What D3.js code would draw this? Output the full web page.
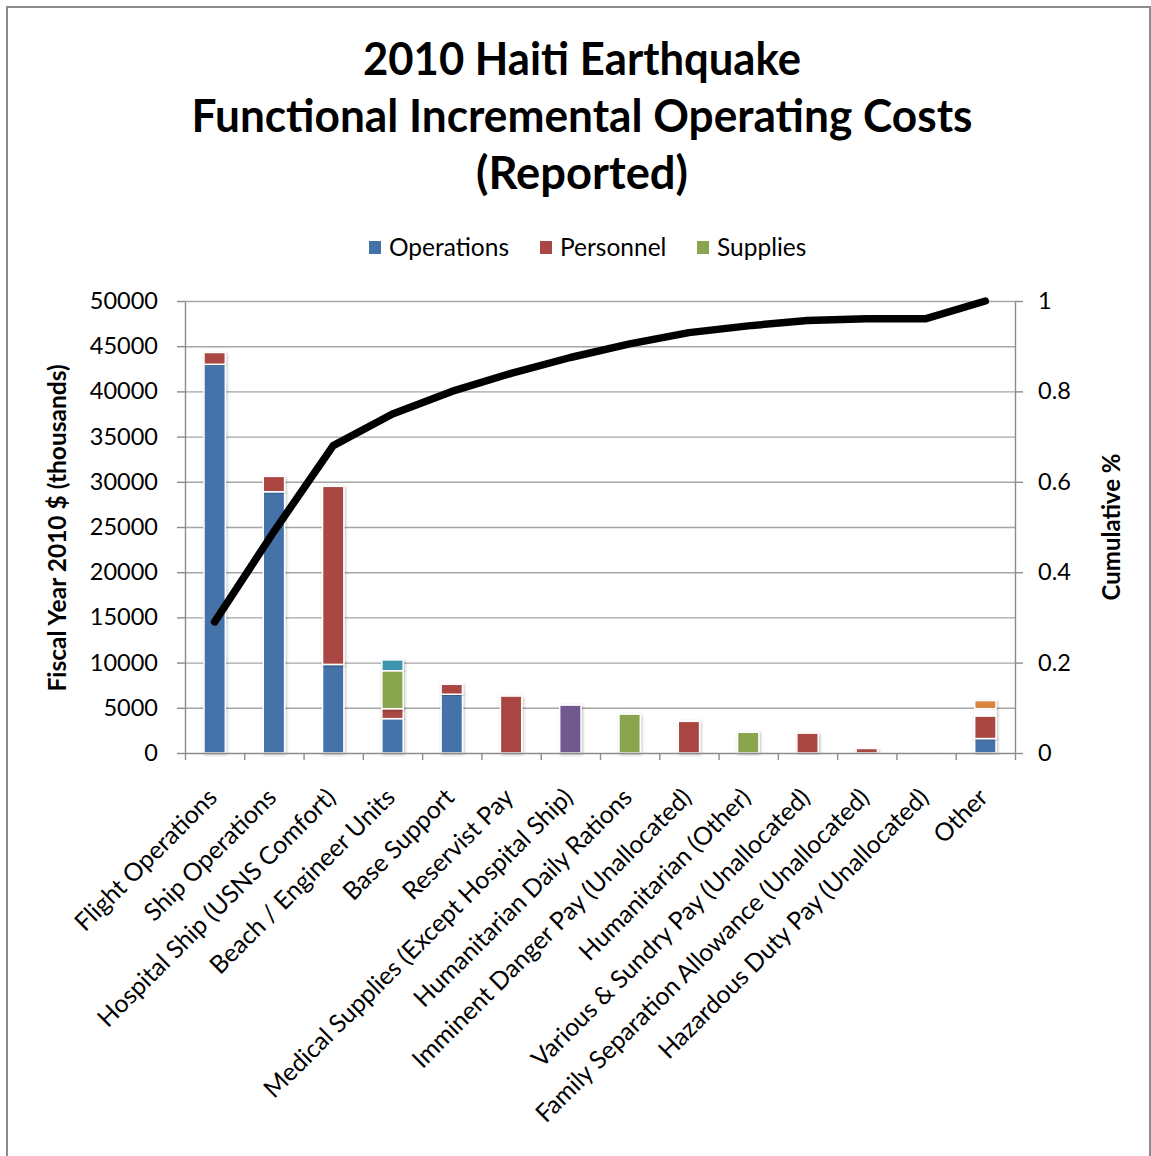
<!DOCTYPE html>
<html>
<head>
<meta charset="utf-8">
<script src="https://cdn.jsdelivr.net/npm/d3@7"></script>
<style>
  body { margin: 0; background: #fff; }
  text { font-family: Lato, "Open Sans", sans-serif; fill: #000; }
</style>
</head>
<body>
<svg id="chart" width="1151" height="1156"></svg>
<script>
"use strict";

// categories on the x axis
const categories = [
  "Flight Operations", "Ship Operations", "Hospital Ship (USNS Comfort)",
  "Beach / Engineer Units", "Base Support", "Reservist Pay",
  "Medical Supplies (Except Hospital Ship)", "Humanitarian Daily Rations",
  "Imminent Danger Pay (Unallocated)", "Humanitarian (Other)",
  "Various & Sundry Pay (Unallocated)", "Family Separation Allowance (Unallocated)",
  "Hazardous Duty Pay (Unallocated)", "Other"
];

// stacked series values, FY2010 $ thousands
const operations = [43000, 28900, 9800, 3800, 6500, 0, 0, 0, 0, 0, 0, 0, 0, 1600];
const personnel  = [1300, 1700, 19700, 1100, 1100, 6300, 0, 0, 3500, 0, 2200, 500, 40, 2500];
const supplies   = [0, 0, 0, 4200, 0, 0, 0, 4300, 0, 2300, 0, 0, 0, 0];
const series4    = [0, 0, 0, 1200, 0, 0, 0, 0, 0, 0, 0, 0, 0, 0];
const series5    = [0, 0, 0, 0, 0, 0, 5300, 0, 0, 0, 0, 0, 0, 0];
const series6    = [0, 0, 0, 0, 0, 0, 0, 0, 0, 0, 0, 0, 0, 800];
const series7    = [0, 0, 0, 0, 0, 0, 0, 0, 0, 0, 0, 0, 0, 900];

// cumulative share line (right axis)
const cumulative = [0.29, 0.49, 0.68, 0.75, 0.80, 0.84, 0.875, 0.905, 0.93, 0.945, 0.957, 0.961, 0.961, 1.0];

// tick labels
const leftTicks = [0, 5000, 10000, 15000, 20000, 25000, 30000, 35000, 40000, 45000, 50000];
const rightTicks = [0, 0.2, 0.4, 0.6, 0.8, 1];
const gridTicks = [5000, 10000, 15000, 20000, 25000, 30000, 35000, 40000, 45000, 50000];

const seriesNames = ["Operations", "Personnel", "Supplies", "Series4", "Series5", "Series6", "Series7"];
const seriesValues = [operations, personnel, supplies, series4, series5, series6, series7];
const seriesColors = ["#4472a8", "#aa4643", "#89a54e", "#3d96ae", "#71588f", "#ffffff", "#db843d"];
const legendNames = ["Operations", "Personnel", "Supplies"];

const svg = d3.select("#chart");

// frame
svg.append("rect")
   .attr("x", 7).attr("y", 7)
   .attr("width", 1143).attr("height", 1170)
   .attr("fill", "#fff")
   .attr("stroke", "#8c8c8c")
   .attr("stroke-width", 2);

const defs = svg.append("defs");
const shadow = defs.append("filter").attr("id", "shadow")
   .attr("x", "-30%").attr("y", "-10%").attr("width", "160%").attr("height", "120%");
shadow.append("feDropShadow")
   .attr("dx", 1).attr("dy", 1).attr("stdDeviation", 1.6)
   .attr("flood-color", "#000").attr("flood-opacity", 0.28);

const plotLeft = 185, plotRight = 1015, plotTop = 301, plotBottom = 753;

// title
const titleLines = [
  {t: "2010 Haiti Earthquake", y: 75, w: 438},
  {t: "Functional Incremental Operating Costs", y: 132, w: 781},
  {t: "(Reported)", y: 189, w: 212}
];
svg.selectAll("text.title")
   .data(titleLines)
   .join("text")
   .attr("class", "title")
   .attr("x", 582)
   .attr("y", d => d.y)
   .attr("text-anchor", "middle")
   .attr("font-size", 46)
   .attr("font-weight", "bold")
   .attr("textLength", d => d.w)
   .attr("lengthAdjust", "spacingAndGlyphs")
   .text(d => d.t);

// scales
const x = d3.scaleBand()
            .domain(categories)
            .range([plotLeft, plotRight])
            .paddingInner(0.64)
            .paddingOuter(0.32);
const xEdge = d3.scaleLinear().domain([0, categories.length]).range([plotLeft, plotRight]);
const y = d3.scaleLinear().domain([0, 50000]).range([plotBottom, plotTop]);
const y2 = d3.scaleLinear().domain([0, 1]).range([plotBottom, plotTop]);

// gridlines
svg.append("g")
   .attr("class", "grid")
   .attr("transform", "translate(" + plotLeft + ",0)")
   .call(d3.axisLeft(y).tickValues(gridTicks).tickSize(-(plotRight - plotLeft)).tickFormat(""))
   .call(g => g.select(".domain").remove())
   .call(g => g.selectAll("line").attr("stroke", "#a6a6a6").attr("stroke-width", 1.4));

// stacked bars
const rows = categories.map((c, i) => {
    let row = {cat: c};
    seriesNames.forEach((s, k) => { row[s] = seriesValues[k][i]; });
    return row;
});
const stacked = d3.stack().keys(seriesNames)(rows);

svg.append("g")
   .selectAll("g")
   .data(stacked)
   .join("g")
   .attr("fill", (d, k) => seriesColors[k])
   .selectAll("rect")
   .data(d => d.filter(p => p[1] - p[0] > 0))
   .join("rect")
   .attr("x", d => x(d.data.cat))
   .attr("y", d => y(d[1]))
   .attr("width", x.bandwidth())
   .attr("height", d => Math.max(1, y(d[0]) - y(d[1])))
   .attr("stroke", "#fff")
   .attr("stroke-width", 1.5)
   .attr("filter", "url(#shadow)");

// left axis
const axisColor = "#8c8c8c";
svg.append("g")
   .attr("transform", "translate(" + plotLeft + ",0)")
   .call(d3.axisLeft(y).tickValues(leftTicks).tickSize(8).tickPadding(19).tickSizeOuter(0).tickFormat(d3.format("d")))
   .call(g => g.select(".domain").attr("stroke", axisColor).attr("stroke-width", 1.4))
   .call(g => g.selectAll("line").attr("stroke", axisColor).attr("stroke-width", 1.4))
   .call(g => g.selectAll("text").attr("font-size", 23.5).attr("font-family", "Lato, sans-serif").attr("fill", "#111"));

// right axis
svg.append("g")
   .attr("transform", "translate(" + plotRight + ",0)")
   .call(d3.axisRight(y2).tickValues(rightTicks).tickSize(8).tickPadding(15).tickSizeOuter(0).tickFormat(d => String(d)))
   .call(g => g.select(".domain").attr("stroke", axisColor).attr("stroke-width", 1.4))
   .call(g => g.selectAll("line").attr("stroke", axisColor).attr("stroke-width", 1.4))
   .call(g => g.selectAll("text").attr("font-size", 23.5).attr("font-family", "Lato, sans-serif").attr("fill", "#111"));

// bottom axis with ticks between categories
svg.append("g")
   .attr("transform", "translate(0," + plotBottom + ")")
   .call(d3.axisBottom(xEdge).tickValues(d3.range(categories.length + 1)).tickSize(7).tickSizeOuter(0).tickFormat(""))
   .call(g => g.select(".domain").attr("stroke", axisColor).attr("stroke-width", 1.4))
   .call(g => g.selectAll("line").attr("stroke", axisColor).attr("stroke-width", 1.4));

// rotated category labels
svg.append("g")
   .selectAll("text")
   .data(categories)
   .join("text")
   .attr("transform", d => "translate(" + (x(d) + x.bandwidth() / 2 + 4) + ",799) rotate(-45)")
   .attr("text-anchor", "end")
   .attr("font-size", 24.8)
   .attr("fill", "#111")
   .text(d => d);

// cumulative line
const line = d3.line()
               .x((d, i) => x(categories[i]) + x.bandwidth() / 2)
               .y(d => y2(d));
svg.append("path")
   .datum(cumulative)
   .attr("d", line)
   .attr("fill", "none")
   .attr("stroke", "#000")
   .attr("stroke-width", 7.5)
   .attr("stroke-linejoin", "round")
   .attr("stroke-linecap", "round");

// axis titles
svg.append("text")
   .attr("transform", "translate(66,528) rotate(-90)")
   .attr("text-anchor", "middle")
   .attr("font-size", 24.5)
   .attr("font-weight", "bold")
   .text("Fiscal Year 2010 $ (thousands)");

svg.append("text")
   .attr("transform", "translate(1120,527) rotate(-90)")
   .attr("text-anchor", "middle")
   .attr("font-size", 24)
   .attr("font-weight", "bold")
   .text("Cumulative %");

// legend
const legendX = [369, 540, 697];
const legend = svg.append("g")
   .selectAll("g")
   .data(legendNames)
   .join("g")
   .attr("transform", (d, i) => "translate(" + legendX[i] + ",241)");
legend.append("rect")
   .attr("width", 12).attr("height", 13)
   .attr("fill", (d, i) => seriesColors[i]);
legend.append("text")
   .attr("x", 20).attr("y", 14.5)
   .attr("font-size", 24.5)
   .attr("fill", "#222")
   .text(d => d);
</script>
</body>
</html>
